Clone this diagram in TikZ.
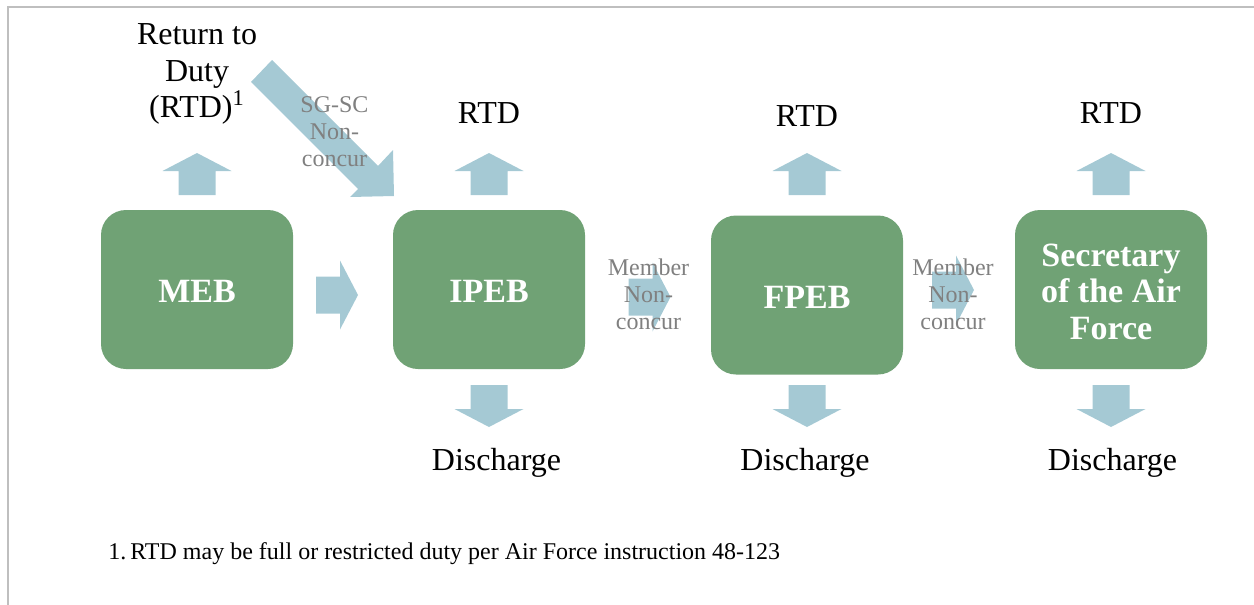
\documentclass[tikz,border=0pt]{standalone}
\usepackage{fontspec}
\setmainfont{Liberation Serif}
\usetikzlibrary{calc}
\definecolor{boxgreen}{RGB}{112,162,117}
\definecolor{arrowblue}{RGB}{165,201,212}
\definecolor{framegray}{RGB}{191,191,191}
\definecolor{labelgray}{RGB}{128,128,128}
\begin{document}
\begin{tikzpicture}[x=0.5pt,y=-0.5pt,
  board/.style={fill=boxgreen, rounded corners=12.5pt, minimum width=96pt, minimum height=79.5pt, inner sep=0pt},
  boardtext/.style={inner sep=0pt, text=white, font=\fontsize{17}{18.3}\selectfont\bfseries, align=center},
  outcome/.style={font=\fontsize{16}{18.25}\selectfont, align=center, inner sep=0pt},
  vote/.style={font=\fontsize{12}{13.5}\selectfont, text=labelgray, align=center, inner sep=0pt},
  note/.style={font=\fontsize{12}{14}\selectfont, inner sep=0pt, anchor=west},
  barrow/.pic={\fill[arrowblue] (0,-21) -- (34.5,-3) -- (18.5,-3) -- (18.5,21) -- (-18.5,21) -- (-18.5,-3) -- (-34.5,-3) -- cycle;}]
\useasboundingbox (0,0) rectangle (1254,605);
\draw[framegray, line width=1pt] (8,605) -- (8,7) -- (1254,7);

% boards
\node[board] (meb) at (197,289.5) {};
\node[board] (ipeb) at (489,289.5) {};
\node[board] (fpeb) at (807,295) {};
\node[board] (saf) at (1111,289.5) {};
\node[boardtext] (mebt) at ([yshift=-1.2pt]meb.center) {MEB};
\node[boardtext] (ipebt) at ([yshift=-1.2pt]ipeb.center) {IPEB};
\node[boardtext] (fpebt) at ([yshift=-1.4pt]fpeb.center) {FPEB};
\node[boardtext] (saft) at ([yshift=-1.2pt]saf.center) {Secretary\\of the Air\\Force};

% arrow positions
\coordinate (uprow) at (0,174);
\coordinate (downrow) at (0,406);
\coordinate (a1) at (337,295);
\coordinate (a2) at (649.5,297);
\coordinate (a3) at (953,290);

% block arrows
\pic at (meb |- uprow) {barrow};
\pic at (ipeb |- uprow) {barrow};
\pic at (fpeb |- uprow) {barrow};
\pic at (saf |- uprow) {barrow};
\pic[rotate=180] at (ipeb |- downrow) {barrow};
\pic[rotate=180] at (fpeb |- downrow) {barrow};
\pic[rotate=180] at (saf |- downrow) {barrow};
\pic[rotate=-90] at (a1) {barrow};
\pic[rotate=-90] at (a2) {barrow};
\pic[rotate=-90] at (a3) {barrow};
\fill[arrowblue] (272,60) -- (378,166) -- (393,150) -- (394,196) -- (350,197) -- (358,189) -- (251,82) -- cycle;

% outcome labels
\node[outcome] (rtd0) at (197,74) {Return to\\Duty\\(RTD)\textsuperscript{1}};
\node[outcome] (rtd1) at (489,113) {RTD};
\node[outcome] (rtd2) at (807,116) {RTD};
\node[outcome] (rtd3) at (1111,113) {RTD};
\node[outcome] (dis1) at (496.5,463) {Discharge};
\node[outcome] (dis2) at (805,463) {Discharge};
\node[outcome] (dis3) at (1112.5,463) {Discharge};

% vote labels
\node[vote] (sgsc) at (334.5,132) {SG-SC\\Non-\\concur};
\node[vote] (mnc1) at (648.5,294) {Member\\Non-\\concur};
\node[vote] (mnc2) at (953,294) {Member\\Non-\\concur};

% footnote
\node[note] (fn) at (108,554) {1.\,RTD may be full or restricted duty per Air Force instruction 48-123};
\end{tikzpicture}
\end{document}
